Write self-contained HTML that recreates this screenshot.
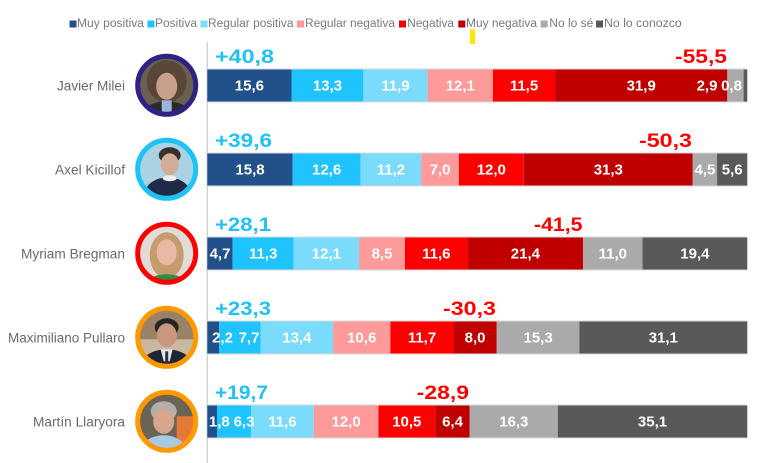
<!DOCTYPE html>
<html>
<head>
<meta charset="utf-8">
<style>
  html,body{margin:0;padding:0;background:#fff;}
  body{width:757px;height:463px;overflow:hidden;}
  svg{display:block;font-family:"Liberation Sans",Arial,sans-serif;}
  .lg{font-size:11.5px;fill:#7a7a7a;}
  .nm{font-size:13.5px;fill:#6a6a6a;}
  .v{font-size:15px;font-weight:bold;fill:#fff;text-anchor:middle;}
  .pos{font-size:19px;font-weight:bold;fill:#1ec2f7;}
  .neg{font-size:19px;font-weight:bold;fill:#ff0000;text-anchor:end;}
</style>
</head>
<body>
<svg width="757" height="463" viewBox="0 0 757 463" xmlns="http://www.w3.org/2000/svg">
  <defs>
    <clipPath id="av"><circle cx="0" cy="0" r="27"/></clipPath>
  </defs>

  <!-- Legend -->
  <rect x="69.5" y="20.5" width="7" height="7" fill="#21508a"/>
  <text class="lg" x="77" y="27" textLength="67" lengthAdjust="spacingAndGlyphs">Muy positiva</text>
  <rect x="147.5" y="20.5" width="7" height="7" fill="#1fc3fd"/>
  <text class="lg" x="155" y="27" textLength="42" lengthAdjust="spacingAndGlyphs">Positiva</text>
  <rect x="200.5" y="20.5" width="7" height="7" fill="#7adbfd"/>
  <text class="lg" x="208" y="27" textLength="85.5" lengthAdjust="spacingAndGlyphs">Regular positiva</text>
  <rect x="297" y="20.5" width="7" height="7" fill="#ff9a9a"/>
  <text class="lg" x="305" y="27" textLength="90" lengthAdjust="spacingAndGlyphs">Regular negativa</text>
  <rect x="399" y="20.5" width="7" height="7" fill="#ff0000"/>
  <text class="lg" x="407.3" y="27" textLength="46.7" lengthAdjust="spacingAndGlyphs">Negativa</text>
  <rect x="458.3" y="20.5" width="7" height="7" fill="#c00000"/>
  <text class="lg" x="466" y="27" textLength="71" lengthAdjust="spacingAndGlyphs">Muy negativa</text>
  <rect x="540.7" y="20.5" width="7" height="7" fill="#aaaaaa"/>
  <text class="lg" x="549.3" y="27" textLength="44" lengthAdjust="spacingAndGlyphs">No lo sé</text>
  <rect x="596" y="20.5" width="7" height="7" fill="#595959"/>
  <text class="lg" x="604" y="27" textLength="77.7" lengthAdjust="spacingAndGlyphs">No lo conozco</text>

  <!-- yellow marker -->
  <rect x="470" y="29.5" width="5" height="14.5" fill="#ffe600"/>

  <!-- axis line -->
  <rect x="206.5" y="42" width="1.5" height="421" fill="#d4d4d4"/>

  <!-- Row 0: Javier Milei (top 69) -->
  <g>
    <rect x="207.3" y="69" width="84.24" height="33" fill="#21508a"/>
    <rect x="291.54" y="69" width="71.82" height="33" fill="#1fc3fd"/>
    <rect x="363.36" y="69" width="64.26" height="33" fill="#7adbfd"/>
    <rect x="427.62" y="69" width="65.34" height="33" fill="#ff9a9a"/>
    <rect x="492.96" y="69" width="62.1" height="33" fill="#ff0000"/>
    <rect x="555.06" y="69" width="172.26" height="33" fill="#c00000"/>
    <rect x="727.32" y="69" width="16.26" height="33" fill="#aaaaaa"/>
    <rect x="743.58" y="69" width="3.72" height="33" fill="#595959"/>
    <rect x="207.3" y="68.5" width="540" height="1" fill="#d8d8d8"/>
    <rect x="207.3" y="101.5" width="540" height="1" fill="#d8d8d8"/>
    <text class="v" x="249.4" y="90.5">15,6</text>
    <text class="v" x="327.5" y="90.5">13,3</text>
    <text class="v" x="395.5" y="90.5">11,9</text>
    <text class="v" x="460.3" y="90.5">12,1</text>
    <text class="v" x="524" y="90.5">11,5</text>
    <text class="v" x="641.2" y="90.5">31,9</text>
    <text class="v" x="707" y="90.5">2,9</text>
    <text class="v" x="731.5" y="90.5">0,8</text>
    <text class="pos" x="215" y="63" textLength="59" lengthAdjust="spacingAndGlyphs">+40,8</text>
    <text class="neg" x="727" y="63" textLength="52" lengthAdjust="spacingAndGlyphs">-55,5</text>
    <text class="nm" x="125" y="90.5" text-anchor="end" textLength="68" lengthAdjust="spacingAndGlyphs">Javier Milei</text>
  </g>

  <!-- Row 1: Axel Kicillof (top 153) -->
  <g>
    <rect x="207.3" y="153" width="85.32" height="33" fill="#21508a"/>
    <rect x="292.62" y="153" width="68.04" height="33" fill="#1fc3fd"/>
    <rect x="360.66" y="153" width="60.48" height="33" fill="#7adbfd"/>
    <rect x="421.14" y="153" width="37.8" height="33" fill="#ff9a9a"/>
    <rect x="458.94" y="153" width="64.8" height="33" fill="#ff0000"/>
    <rect x="523.74" y="153" width="169.02" height="33" fill="#c00000"/>
    <rect x="692.76" y="153" width="24.3" height="33" fill="#aaaaaa"/>
    <rect x="717.06" y="153" width="30.24" height="33" fill="#595959"/>
    <rect x="207.3" y="152.5" width="540" height="1" fill="#d8d8d8"/>
    <rect x="207.3" y="185.5" width="540" height="1" fill="#d8d8d8"/>
    <text class="v" x="250" y="174.5">15,8</text>
    <text class="v" x="326.6" y="174.5">12,6</text>
    <text class="v" x="390.9" y="174.5">11,2</text>
    <text class="v" x="440" y="174.5">7,0</text>
    <text class="v" x="491.3" y="174.5">12,0</text>
    <text class="v" x="608.3" y="174.5">31,3</text>
    <text class="v" x="704.9" y="174.5">4,5</text>
    <text class="v" x="732.2" y="174.5">5,6</text>
    <text class="pos" x="215" y="147" textLength="57" lengthAdjust="spacingAndGlyphs">+39,6</text>
    <text class="neg" x="692" y="147" textLength="53" lengthAdjust="spacingAndGlyphs">-50,3</text>
    <text class="nm" x="125" y="174.5" text-anchor="end" textLength="70" lengthAdjust="spacingAndGlyphs">Axel Kicillof</text>
  </g>

  <!-- Row 2: Myriam Bregman (top 237) -->
  <g>
    <rect x="207.3" y="237" width="25.38" height="33" fill="#21508a"/>
    <rect x="232.68" y="237" width="61.02" height="33" fill="#1fc3fd"/>
    <rect x="293.7" y="237" width="65.34" height="33" fill="#7adbfd"/>
    <rect x="359.04" y="237" width="45.9" height="33" fill="#ff9a9a"/>
    <rect x="404.94" y="237" width="62.64" height="33" fill="#ff0000"/>
    <rect x="467.58" y="237" width="115.56" height="33" fill="#c00000"/>
    <rect x="583.14" y="237" width="59.4" height="33" fill="#aaaaaa"/>
    <rect x="642.54" y="237" width="104.76" height="33" fill="#595959"/>
    <rect x="207.3" y="236.5" width="540" height="1" fill="#d8d8d8"/>
    <rect x="207.3" y="269.5" width="540" height="1" fill="#d8d8d8"/>
    <text class="v" x="220" y="258.5">4,7</text>
    <text class="v" x="263.2" y="258.5">11,3</text>
    <text class="v" x="326.4" y="258.5">12,1</text>
    <text class="v" x="382" y="258.5">8,5</text>
    <text class="v" x="436.3" y="258.5">11,6</text>
    <text class="v" x="525.4" y="258.5">21,4</text>
    <text class="v" x="612.8" y="258.5">11,0</text>
    <text class="v" x="694.9" y="258.5">19,4</text>
    <text class="pos" x="215" y="231" textLength="56" lengthAdjust="spacingAndGlyphs">+28,1</text>
    <text class="neg" x="582.5" y="231" textLength="48.5" lengthAdjust="spacingAndGlyphs">-41,5</text>
    <text class="nm" x="125" y="258.5" text-anchor="end" textLength="104" lengthAdjust="spacingAndGlyphs">Myriam Bregman</text>
  </g>

  <!-- Row 3: Maximiliano Pullaro (top 321) -->
  <g>
    <rect x="207.3" y="321" width="11.88" height="33" fill="#21508a"/>
    <rect x="219.18" y="321" width="41.58" height="33" fill="#1fc3fd"/>
    <rect x="260.76" y="321" width="72.36" height="33" fill="#7adbfd"/>
    <rect x="333.12" y="321" width="57.24" height="33" fill="#ff9a9a"/>
    <rect x="390.36" y="321" width="63.18" height="33" fill="#ff0000"/>
    <rect x="453.54" y="321" width="43.2" height="33" fill="#c00000"/>
    <rect x="496.74" y="321" width="82.62" height="33" fill="#aaaaaa"/>
    <rect x="579.36" y="321" width="167.94" height="33" fill="#595959"/>
    <rect x="207.3" y="320.5" width="540" height="1" fill="#d8d8d8"/>
    <rect x="207.3" y="353.5" width="540" height="1" fill="#d8d8d8"/>
    <text class="v" x="222.5" y="342.5">2,2</text>
    <text class="v" x="249" y="342.5">7,7</text>
    <text class="v" x="296.9" y="342.5">13,4</text>
    <text class="v" x="361.7" y="342.5">10,6</text>
    <text class="v" x="422" y="342.5">11,7</text>
    <text class="v" x="475.1" y="342.5">8,0</text>
    <text class="v" x="538.1" y="342.5">15,3</text>
    <text class="v" x="663.3" y="342.5">31,1</text>
    <text class="pos" x="215" y="315" textLength="56" lengthAdjust="spacingAndGlyphs">+23,3</text>
    <text class="neg" x="496" y="315" textLength="53" lengthAdjust="spacingAndGlyphs">-30,3</text>
    <text class="nm" x="125" y="342.5" text-anchor="end" textLength="117" lengthAdjust="spacingAndGlyphs">Maximiliano Pullaro</text>
  </g>

  <!-- Row 4: Martín Llaryora (top 405) -->
  <g>
    <rect x="207.3" y="405" width="9.72" height="33" fill="#21508a"/>
    <rect x="217.02" y="405" width="34.02" height="33" fill="#1fc3fd"/>
    <rect x="251.04" y="405" width="62.64" height="33" fill="#7adbfd"/>
    <rect x="313.68" y="405" width="64.8" height="33" fill="#ff9a9a"/>
    <rect x="378.48" y="405" width="56.7" height="33" fill="#ff0000"/>
    <rect x="435.18" y="405" width="34.56" height="33" fill="#c00000"/>
    <rect x="469.74" y="405" width="88.02" height="33" fill="#aaaaaa"/>
    <rect x="557.76" y="405" width="189.54" height="33" fill="#595959"/>
    <rect x="207.3" y="404.5" width="540" height="1" fill="#d8d8d8"/>
    <rect x="207.3" y="437.5" width="540" height="1" fill="#d8d8d8"/>
    <text class="v" x="219.3" y="426.5">1,8</text>
    <text class="v" x="244" y="426.5">6,3</text>
    <text class="v" x="282.4" y="426.5">11,6</text>
    <text class="v" x="346.1" y="426.5">12,0</text>
    <text class="v" x="406.8" y="426.5">10,5</text>
    <text class="v" x="452.5" y="426.5">6,4</text>
    <text class="v" x="513.8" y="426.5">16,3</text>
    <text class="v" x="652.5" y="426.5">35,1</text>
    <text class="pos" x="215" y="399" textLength="53" lengthAdjust="spacingAndGlyphs">+19,7</text>
    <text class="neg" x="469" y="399" textLength="52.3" lengthAdjust="spacingAndGlyphs">-28,9</text>
    <text class="nm" x="125" y="426.5" text-anchor="end" textLength="92" lengthAdjust="spacingAndGlyphs">Martín Llaryora</text>
  </g>

  <!-- Avatars -->
  <!-- Milei -->
  <g transform="translate(166.7,85.3)">
    <g clip-path="url(#av)">
      <rect x="-30" y="-30" width="60" height="60" fill="#6b5e52"/>
      <ellipse cx="0" cy="-4" rx="20" ry="21" fill="#5a4634"/>
      <ellipse cx="0" cy="1" rx="10.5" ry="13.5" fill="#c7a08e"/>
      <ellipse cx="0" cy="30" rx="25" ry="14" fill="#2a2a2c"/>
      <rect x="-5" y="15" width="10" height="12" fill="#9ab6dc"/>
    </g>
    <circle cx="0" cy="0" r="29" fill="none" stroke="#2e2384" stroke-width="5"/>
  </g>
  <!-- Kicillof -->
  <g transform="translate(166.7,169.3)">
    <g clip-path="url(#av)">
      <rect x="-30" y="-30" width="60" height="60" fill="#a9d3e3"/>
      <ellipse cx="3" cy="-14" rx="11" ry="8" fill="#3a2f2c"/>
      <ellipse cx="3" cy="-5" rx="9" ry="11" fill="#d4ab95"/>
      <ellipse cx="1" cy="25" rx="23" ry="17" fill="#1f2a47"/>
      <ellipse cx="3" cy="9" rx="7" ry="3" fill="#eeeeee"/>
    </g>
    <circle cx="0" cy="0" r="29" fill="none" stroke="#1ec2f7" stroke-width="5"/>
  </g>
  <!-- Bregman -->
  <g transform="translate(166.7,253.3)">
    <g clip-path="url(#av)">
      <rect x="-30" y="-30" width="60" height="60" fill="#e2dcd8"/>
      <ellipse cx="0" cy="2" rx="17" ry="23" fill="#c59c6c"/>
      <ellipse cx="0" cy="-1" rx="10" ry="13" fill="#e9b9a3"/>
      <ellipse cx="0" cy="31" rx="20" ry="10" fill="#2f8d43"/>
    </g>
    <circle cx="0" cy="0" r="29" fill="none" stroke="#ff0000" stroke-width="5"/>
  </g>
  <!-- Pullaro -->
  <g transform="translate(166.7,337.3)">
    <g clip-path="url(#av)">
      <rect x="-30" y="-30" width="60" height="60" fill="#9a8268"/>
      <rect x="-30" y="2" width="60" height="30" fill="#c8b8a0"/>
      <ellipse cx="0" cy="-10" rx="12" ry="9" fill="#2a2420"/>
      <ellipse cx="0" cy="-2" rx="10" ry="12" fill="#c8977d"/>
      <ellipse cx="0" cy="27" rx="25" ry="15" fill="#1e2536"/>
      <polygon points="-6,12 6,12 3,24 -3,24" fill="#e8e8ec"/>
      <rect x="-1.5" y="14" width="3" height="12" fill="#2a3148"/>
    </g>
    <circle cx="0" cy="0" r="29" fill="none" stroke="#ff9900" stroke-width="5"/>
  </g>
  <!-- Llaryora -->
  <g transform="translate(166.7,421.3)">
    <g clip-path="url(#av)">
      <rect x="-30" y="-30" width="60" height="60" fill="#6a6454"/>
      <rect x="10" y="-5" width="20" height="35" fill="#e5793a"/>
      <ellipse cx="-3" cy="-10" rx="13" ry="10" fill="#b3afab"/>
      <ellipse cx="-3" cy="0" rx="10.5" ry="12.5" fill="#d6a68e"/>
      <ellipse cx="-3" cy="28" rx="22" ry="14" fill="#a8c8e6"/>
    </g>
    <circle cx="0" cy="0" r="29" fill="none" stroke="#ff9900" stroke-width="5"/>
  </g>
</svg>
</body>
</html>
